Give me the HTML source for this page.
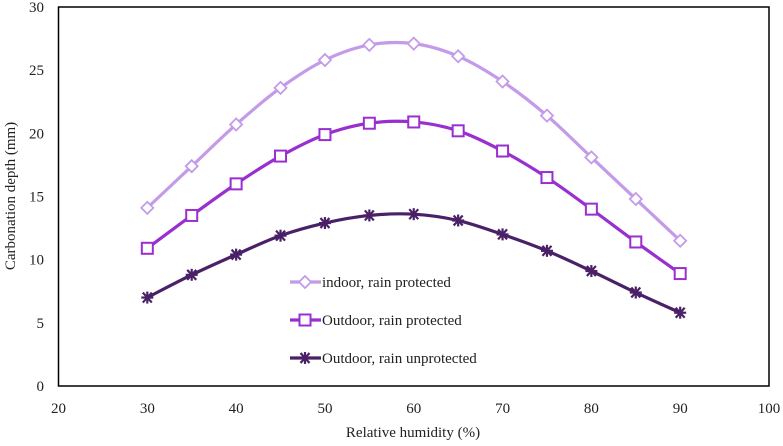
<!DOCTYPE html>
<html><head><meta charset="utf-8"><style>
body{margin:0;background:#fff;}
svg text{font-family:"Liberation Serif",serif;fill:#222;}
</style></head><body>
<svg id="chart" width="783" height="441" viewBox="0 0 783 441" xmlns="http://www.w3.org/2000/svg"></svg>
<script>
const xValues=[30,35,40,45,50,55,60,65,70,75,80,85,90];
const indoorProtected=[14.1,17.4,20.7,23.6,25.8,27.0,27.1,26.1,24.1,21.4,18.1,14.8,11.5];
const outdoorProtected=[10.9,13.5,16.0,18.2,19.9,20.8,20.9,20.2,18.6,16.5,14.0,11.4,8.9];
const outdoorUnprotected=[7.0,8.8,10.4,11.9,12.9,13.5,13.6,13.1,12.0,10.7,9.1,7.4,5.8];
const xTicks=[20,30,40,50,60,70,80,90,100];
const yTicks=[0,5,10,15,20,25,30];
const seriesNames=["indoor, rain protected","Outdoor, rain protected","Outdoor, rain unprotected"];

const NS="http://www.w3.org/2000/svg";
const svg=document.getElementById('chart');
const L=58.5,R=769,T=7,B=386;
const xs=v=>L+(v-20)/80*(R-L);
const ys=v=>B-v/30*(B-T);
function mk(tag,attrs,parent){const e=document.createElementNS(NS,tag);for(const k in attrs)e.setAttribute(k,attrs[k]);(parent||svg).appendChild(e);return e;}

const frame=mk('rect',{x:L,y:T,width:R-L,height:B-T,fill:'none',stroke:'#000','stroke-width':1.5});



xTicks.forEach(t=>{const e=mk('text',{x:xs(t),y:413,'text-anchor':'middle','font-size':15});e.textContent=t;

});
yTicks.forEach(t=>{const e=mk('text',{x:44,y:ys(t)+5,'text-anchor':'end','font-size':15});e.textContent=t;

});

const xt=mk('text',{x:413,y:437,'text-anchor':'middle','font-size':15});xt.textContent='Relative humidity  (%)';


const yt=mk('text',{x:0,y:0,'text-anchor':'middle','font-size':15,transform:'translate(15,196) rotate(-90)'});yt.textContent='Carbonation depth (mm)';



function smooth(pts){let d=`M${pts[0][0]},${pts[0][1]}`;for(let i=0;i<pts.length-1;i++){const p0=pts[i-1]||pts[i],p1=pts[i],p2=pts[i+1],p3=pts[i+2]||p2;
const c1=[p1[0]+(p2[0]-p0[0])/6,p1[1]+(p2[1]-p0[1])/6],c2=[p2[0]-(p3[0]-p1[0])/6,p2[1]-(p3[1]-p1[1])/6];
d+=`C${c1[0]},${c1[1]} ${c2[0]},${c2[1]} ${p2[0]},${p2[1]}`;}return d;}

function marker(type,x,y,color,g){
 if(type==='diamond')return mk('polygon',{points:`${x},${y-6} ${x+6},${y} ${x},${y+6} ${x-6},${y}`,fill:'#fff',stroke:color,'stroke-width':1.8},g);
 if(type==='square')return mk('rect',{x:x-5.5,y:y-5.5,width:11,height:11,fill:'#fff',stroke:color,'stroke-width':2},g);
 const g2=mk('g',{stroke:color,'stroke-width':2.2},g);
 mk('line',{x1:x-6,y1:y,x2:x+6,y2:y},g2);mk('line',{x1:x-4.5,y1:y-5,x2:x+4.5,y2:y+5},g2);mk('line',{x1:x-4.5,y1:y+5,x2:x+4.5,y2:y-5},g2);mk('line',{x1:x,y1:y-6,x2:x,y2:y+6},g2);
 return g2;}

const series=[[indoorProtected,'#c49be8','diamond','indoor'],[outdoorProtected,'#9a2fd0','square','outdoor-protected'],[outdoorUnprotected,'#4a2166','star','outdoor-unprotected']];
series.forEach(([vals,color,type,nm],si)=>{
 const g=mk('g',{});
 
 
 const pts=xValues.map((x,i)=>[xs(x),ys(vals[i])]);
 mk('path',{d:smooth(pts),fill:'none',stroke:color,'stroke-width':3.2},g);
 pts.forEach(p=>{const m=marker(type,p[0],p[1],color,g);
 
 });
 const ly=282+si*38;
 const lg=mk('g',{});
 
 
 mk('line',{x1:290,y1:ly,x2:321,y2:ly,stroke:color,'stroke-width':3.2},lg);
 marker(type,305,ly,color,lg);
 const t=mk('text',{x:322,y:ly+5,'font-size':15},lg);t.textContent=seriesNames[si];
});
</script>
</body></html>
